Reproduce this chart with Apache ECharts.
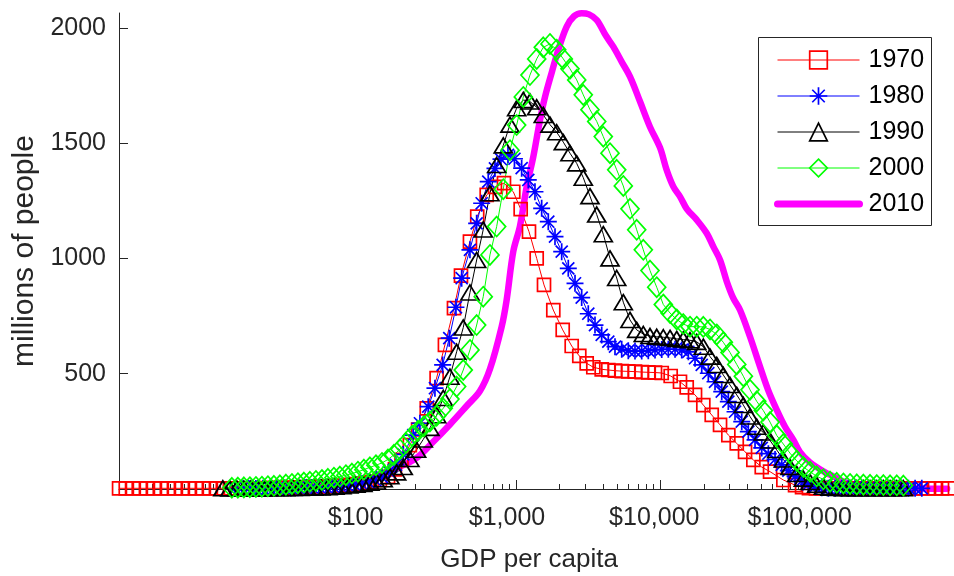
<!DOCTYPE html>
<html>
<head>
<meta charset="utf-8">
<script src="https://cdn.jsdelivr.net/npm/echarts@6/dist/echarts.min.js"></script>
<style>
  html, body { margin: 0; padding: 0; background: #ffffff; }
  #chart { width: 954px; height: 576px; }
</style>
</head>
<body>
<div id="chart"></div>
<script>
// World population by GDP per capita (density curves), one curve per decade.
// x: GDP per capita in dollars (log scale), y: millions of people.

const gdp1970 = [1.78, 1.98, 2.22, 2.48, 2.77, 3.10, 3.47, 3.88, 4.33, 4.85, 5.42, 6.06, 6.78, 7.57, 8.47, 9.47, 10.6, 11.8, 13.2, 14.8, 16.6,
  18.5, 20.7, 23.1, 25.9, 28.9, 32.4, 36.2, 40.5, 45.2, 50.6, 56.6, 63.2, 70.7, 79.1, 88.4,
  100, 114, 130, 145, 161, 184, 210, 241, 282, 322,
  372, 416, 480, 539, 627, 715, 826, 958, 1078, 1231,
  1392, 1564, 1814, 2108, 2433, 2746, 3090, 3434, 3926, 4362,
  4854, 5402, 6000, 6678, 7431, 8257, 9190, 10230, 11800, 13690,
  15240, 17400, 19860, 22710, 25930, 29600, 33850, 38640, 44110, 50440,
  57580, 71190, 85810, 95940,
  107100, 119800, 133900, 149800, 167500, 187300, 209400, 234100, 261800, 292700,
  327300, 366000, 409200, 457600, 511700, 572100, 639700, 715300, 799800, 894300, 1000000];
const pop1970 = [3, 3, 3, 3, 3, 3, 3, 3, 3, 3, 3, 3, 3, 3, 3, 3, 3, 3, 3, 3, 3,
  4, 4, 5, 5, 6, 7, 8, 9, 10, 11, 13, 15, 18, 21, 25,
  30, 39, 53, 85, 126, 190, 258, 350, 481, 625,
  784, 925, 1073, 1181, 1275, 1310, 1326, 1289, 1214, 1116,
  1000, 885, 776, 690, 620, 577, 545, 528, 519, 516,
  513, 511, 510, 509, 507, 506, 505, 503, 490, 465,
  441, 408, 364, 321, 278, 234, 198, 161, 126, 95,
  75, 39, 17, 8,
  4, 3, 3, 3, 3, 3, 3, 3, 3, 3,
  3, 3, 3, 3, 3, 3, 3, 3, 3, 3, 3];

const gdp1980 = [11.29, 12.63, 14.11, 15.79, 17.65, 19.74, 22.07, 24.68, 27.59, 30.85, 34.49, 38.57, 43.13, 48.23, 53.93, 60.3, 67.43, 75.4, 84.3, 94.3,
  105.4, 117.9, 131.8, 147.4, 165.6, 194.2, 216.1, 246.7, 274.6, 310.5,
  345.0, 383.9, 420.5, 480, 534.2, 578.6, 642.7, 715.3, 787.2, 880.4,
  976.3, 1095, 1217, 1354, 1507, 1675, 1864, 2074, 2304, 2565,
  2853, 3170, 3528, 3926, 4362, 4854, 5402, 6000, 6678, 7431,
  8257, 9190, 10230, 11360, 12650, 14070, 15640, 17400, 19360, 21510,
  23940, 26640, 29600, 32940, 36650, 40720, 45320, 50440, 56040, 62360,
  69390, 77090, 85810, 95480, 106100, 118100, 131400, 146000, 162400, 180800,
  200800, 223500, 248700, 276300, 307500, 342200, 380200, 423100, 470800, 523200,
  582300, 647900];
const pop1980 = [2, 2, 2, 2, 3, 3, 3, 4, 4, 5, 6, 7, 8, 9, 11, 13, 16, 20, 25, 31,
  39, 52, 75, 105, 150, 234, 285, 357, 437, 538,
  654, 788, 914, 1037, 1152, 1239, 1333, 1390, 1430, 1449,
  1432, 1391, 1340, 1289, 1217, 1159, 1094, 1029, 957, 892,
  830, 760, 711, 668, 639, 617, 606, 600, 598, 598,
  600, 603, 605, 606, 606, 603, 595, 567, 538, 502,
  465, 422, 379, 335, 292, 249, 213, 178, 153, 128,
  105, 80, 55, 35, 20, 10, 5, 3, 3, 3,
  3, 3, 3, 3, 3, 3, 3, 3, 3, 3,
  3, 3];

const gdp1990 = [9.32, 10.42, 11.66, 13.03, 14.57, 16.30, 18.22, 20.38, 22.79, 25.48, 28.49, 31.86, 35.62, 39.82, 44.53, 49.78, 55.68, 62.26, 69.62, 77.84, 87.04, 97.3,
  108.3, 120.3, 133.9, 149.1, 165.6, 184.2, 205.0, 227.9, 253.5, 282.2,
  313.4, 348.8, 388.2, 431.4, 480.1, 534.2, 593.4, 660.4, 735.0, 816.6,
  908.7, 1011, 1124, 1250, 1392, 1546, 1720, 1915, 2128, 2367,
  2635, 2927, 3256, 3626, 4027, 4481, 4988, 5541, 6166, 6862,
  7625, 8484, 9443, 10490, 11680, 12990, 14430, 16060, 17880, 19860,
  22100, 24600, 27330, 30410, 33850, 37610, 41840, 46570, 51740, 57580,
  64100, 71190, 79230, 88180, 97950, 109000, 121300, 134800, 150000, 166900,
  185500, 206300, 229700, 255200, 283900, 316100, 351200, 390700, 434900, 483100];
const pop1990 = [3, 2, 2, 2, 2, 2, 2, 3, 3, 3, 4, 4, 5, 6, 7, 8, 10, 12, 15, 18, 22, 27,
  32, 42, 55, 72, 95, 130, 170, 215, 265, 320,
  395, 487, 595, 700, 852, 993, 1125, 1282, 1405, 1490,
  1580, 1651, 1687, 1680, 1655, 1622, 1580, 1547, 1504, 1456,
  1412, 1350, 1270, 1190, 1105, 1000, 915, 810, 733, 690,
  672, 663, 660, 658, 655, 651, 648, 645, 638, 617,
  574, 538, 494, 451, 408, 364, 314, 270, 245, 210,
  169, 128, 95, 65, 45, 30, 18, 10, 6, 4,
  3, 3, 3, 3, 3, 3, 3, 3, 3, 3];

const gdp2000 = [10.76, 11.84, 13.03, 14.34, 15.79, 17.37, 19.11, 21.04, 23.15, 25.48, 28.04, 30.85, 33.95, 37.36, 41.11, 45.24, 49.78, 54.79, 60.29, 66.34, 73.02, 80.35, 88.43, 97.3,
  107.1, 117.9, 129.7, 142.7, 157.1, 172.9, 190.2, 209.4, 230.3, 253.5, 282.2, 313.4, 348.8, 388.2, 431.4, 480.1, 534.2,
  593.4, 660.4, 735.0, 816.6, 908.7, 1011, 1124, 1250, 1392, 1546,
  1720, 1915, 2128, 2367, 2635, 2927, 3256, 3626, 4027, 4481,
  4988, 5541, 6166, 6862, 7625, 8484, 9443, 10490, 11680, 12990,
  14430, 16060, 17880, 19860, 22100, 24600, 27330, 30410, 33850, 37610,
  41840, 46570, 51740, 57580, 64100, 71190, 79230, 88180, 97950, 109000,
  121300, 134800, 150000, 166900, 185500, 206300, 229700, 255200, 283900, 316100,
  351200, 390700, 434900, 483100];
const pop2000 = [5, 6, 7, 8, 9, 10, 12, 14, 16, 19, 22, 25, 28, 31, 35, 39, 44, 49, 54, 60, 67, 75, 84, 94,
  103, 113, 128, 148, 172, 200, 230, 252, 272, 293, 318, 350, 390, 444, 516, 603, 711,
  834, 1015, 1138, 1300, 1469, 1578, 1700, 1795, 1865, 1915,
  1930, 1905, 1865, 1822, 1774, 1709, 1645, 1594, 1528, 1456,
  1384, 1314, 1215, 1124, 1037, 947, 875, 800, 763, 735,
  715, 704, 704, 703, 692, 670, 636, 592, 540, 489,
  430, 380, 340, 290, 232, 195, 155, 122, 95, 75,
  55, 42, 32, 27, 24, 22, 20, 19, 18, 17,
  17, 16, 16, 15];

const gdp2010 = [19.7, 31.9, 53.9, 92.3, 157.1, 205.0, 267.3, 348.8, 455.3, 563.0,
  660.4, 796, 862, 958, 1066, 1187, 1318, 1467, 1589, 1777,
  1964, 2246, 2523, 2853, 3206, 3626, 4205, 4724, 5428, 6166,
  7235, 8484, 9952, 11070, 12310, 13690, 15240, 17880, 20970, 23300,
  25930, 28860, 31900, 35670, 41840, 49090, 55780, 64100, 73120, 83500,
  92920, 109000, 142300, 158100, 185500, 216500, 269400, 333100, 434900, 630600, 970000];
const pop2010 = [2, 8, 19, 43, 97, 135, 205, 280, 360, 425,
  520, 704, 820, 1030, 1140, 1311, 1440, 1600, 1700, 1810,
  1904, 2005, 2050, 2063, 2058, 2034, 1965, 1918, 1850, 1788,
  1680, 1570, 1480, 1383, 1311, 1268, 1215, 1167, 1109, 1051,
  993, 900, 830, 776, 660, 530, 430, 343, 270, 213,
  160, 115, 68, 55, 32, 20, 12, 7, 3, 2, 1];

const years = ['1970', '1980', '1990', '2000', '2010'];
const xTickValues = [100, 1000, 10000, 100000];
const yTickValues = [500, 1000, 1500, 2000];
const xMin = 1.778;
const xMax = 1000000;
const yMax = 2064;

const FONT = '"Liberation Sans", Arial, Helvetica, sans-serif';
const AXIS_COLOR = '#262626';

// left shift (px) of each tick label relative to its tick
const labelShift = { 100: 16, 1000: 9, 10000: 6, 100000: 5 };

// minor ticks at 2..9 x 10^k inside the axis range
const minorTickValues = [];
for (let e = 0; e <= 5; e++) {
  for (let m = 2; m <= 9; m++) {
    const v = m * Math.pow(10, e);
    if (v >= xMin && v <= xMax) minorTickValues.push(v);
  }
}

function pairs(xs, ys) { return xs.map((x, i) => [x, ys[i]]); }

const asteriskPath = 'path://M0 5L10 5M5 0L5 10M1.46 1.46L8.54 8.54M1.46 8.54L8.54 1.46';

const styles = {
  '1970': { color: '#ff0000', symbol: 'rect', size: 13 },
  '1980': { color: '#0000ff', symbol: asteriskPath, size: 17 },
  '1990': { color: '#000000', symbol: 'triangle', size: [18, 15] },
  '2000': { color: '#00ff00', symbol: 'diamond', size: [18, 20] }
};
const dataByYear = {
  '1970': pairs(gdp1970, pop1970),
  '1980': pairs(gdp1980, pop1980),
  '1990': pairs(gdp1990, pop1990),
  '2000': pairs(gdp2000, pop2000),
  '2010': pairs(gdp2010, pop2010)
};

const series = years.map(function (yr) {
  if (yr === '2010') {
    return {
      type: 'line', name: yr, data: dataByYear[yr], xAxisIndex: 0,
      symbol: 'none', smooth: 0.35, clip: false,
      lineStyle: { color: '#ff00ff', width: 6.5, cap: 'round', join: 'round' },
      itemStyle: { color: 'rgba(0,0,0,0)', borderWidth: 0 },
      emphasis: { disabled: true }, animation: false
    };
  }
  const s = styles[yr];
  return {
    type: 'line', name: yr, data: dataByYear[yr], xAxisIndex: 0,
    symbol: s.symbol, symbolSize: s.size, showAllSymbol: true, clip: false,
    lineStyle: { color: s.color, width: 1 },
    itemStyle: { color: 'rgba(0,0,0,0)', borderColor: s.color, borderWidth: 1.7 },
    emphasis: { disabled: true }, animation: false
  };
});

const legendData = years.map(function (yr) {
  if (yr === '2010') {
    return {
      name: yr,
      lineStyle: { color: '#ff00ff', width: 7, cap: 'round' },
      itemStyle: { color: 'rgba(0,0,0,0)', borderColor: 'rgba(0,0,0,0)', borderWidth: 0 }
    };
  }
  const s = styles[yr];
  return {
    name: yr,
    lineStyle: { color: s.color, width: 1 },
    itemStyle: { color: 'rgba(0,0,0,0)', borderColor: s.color, borderWidth: 1.7 }
  };
});

const rich = {};
xTickValues.forEach(function (v) {
  rich['t' + v] = {
    fontFamily: FONT, fontSize: 25, color: AXIS_COLOR,
    padding: [0, labelShift[v] * 2, 0, 0]
  };
});

const chart = echarts.init(document.getElementById('chart'), null, { renderer: 'canvas' });
chart.setOption({
  animation: false,
  backgroundColor: '#ffffff',
  grid: { left: 119, right: 5, top: 13, bottom: 87, containLabel: false, outerBoundsMode: 'none' },
  // legend frame
  graphic: [{
    type: 'rect', left: 758, top: 37, z: 0,
    shape: { x: 0, y: 0, width: 173, height: 188 },
    style: { fill: '#ffffff', stroke: AXIS_COLOR, lineWidth: 1 }
  }],
  legend: {
    orient: 'vertical', left: 758, top: 37, z: 10,
    padding: [10, 0, 0, 16],
    itemWidth: 82, itemHeight: 22, itemGap: 10,
    selectedMode: false,
    textStyle: { fontFamily: FONT, fontSize: 25, color: '#000000', lineHeight: 26, padding: [0, 0, 0, 4] },
    data: legendData
  },
  xAxis: [
    {
      type: 'log', logBase: 10, min: xMin, max: xMax, position: 'bottom',
      axisLine: { show: true, onZero: false, lineStyle: { color: AXIS_COLOR, width: 1 } },
      axisTick: { show: true, inside: true, length: 9, customValues: xTickValues, lineStyle: { color: AXIS_COLOR } },
      axisLabel: {
        customValues: xTickValues, margin: 17,
        formatter: function (v) { return '{t' + Math.round(v) + '|$' + Math.round(v).toLocaleString('en-US') + '}'; },
        rich: rich
      },
      splitLine: { show: false },
      name: 'GDP per capita', nameLocation: 'middle', nameGap: 58, nameMoveOverlap: false,
      nameTextStyle: { fontFamily: FONT, fontSize: 26, color: AXIS_COLOR, padding: [0, 10, 0, 0] }
    },
    {
      type: 'log', logBase: 10, min: xMin, max: xMax, position: 'bottom',
      axisLine: { show: false },
      axisTick: { show: true, inside: true, length: 5, customValues: minorTickValues, lineStyle: { color: AXIS_COLOR } },
      axisLabel: { show: false },
      splitLine: { show: false }
    }
  ],
  yAxis: {
    type: 'value', min: 0, max: yMax, interval: 500,
    axisLine: { show: true, lineStyle: { color: AXIS_COLOR, width: 1 } },
    axisTick: { show: true, inside: true, length: 9, customValues: yTickValues, lineStyle: { color: AXIS_COLOR } },
    axisLabel: {
      customValues: yTickValues, margin: 13, fontFamily: FONT, fontSize: 25, color: AXIS_COLOR, padding: [4, 0, 0, 0],
      formatter: function (v) { return String(v); }
    },
    splitLine: { show: false },
    name: 'millions of people', nameLocation: 'middle', nameGap: 79, nameMoveOverlap: false,
    nameTextStyle: { fontFamily: FONT, fontSize: 30, color: AXIS_COLOR }
  },
  series: series
});
</script>
</body>
</html>
